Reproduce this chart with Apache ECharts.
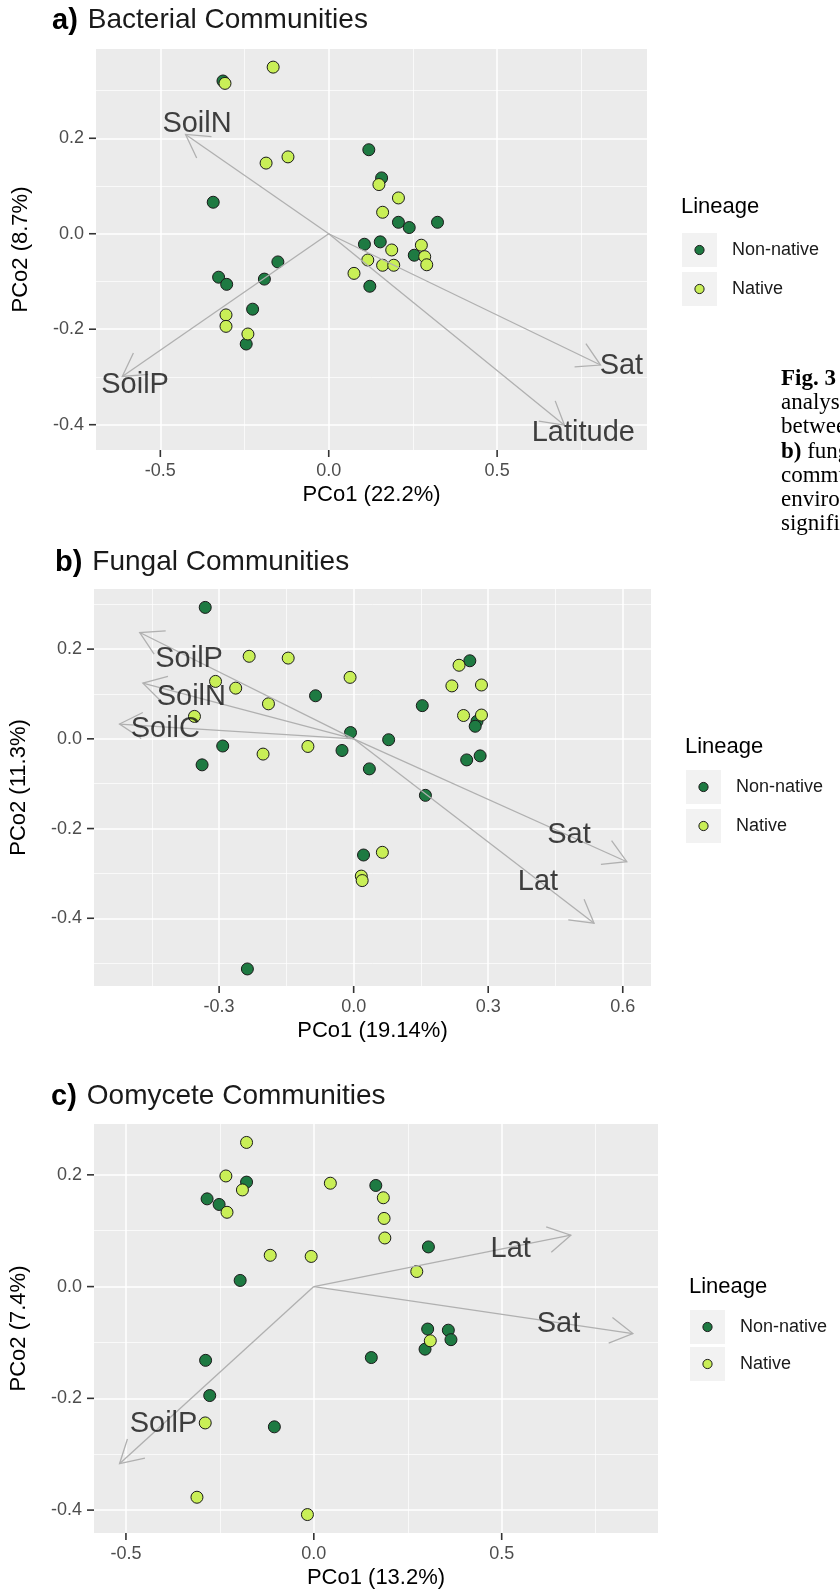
<!DOCTYPE html>
<html>
<head>
<meta charset="utf-8">
<script src="https://cdn.jsdelivr.net/npm/echarts@6/dist/echarts.min.js"></script>
<style>
  html, body { margin: 0; padding: 0; background: #ffffff; }
  #chart { width: 840px; height: 1594px; }
</style>
</head>
<body>
<div id="chart"></div>
<script>
// ---------- data ----------
const lineages = ['Non-native', 'Native'];

// a) Bacterial communities: PCo scores [PCo1, PCo2]
const bactNonNative = [
  [-0.314, 0.320], [-0.343, 0.066], [0.119, 0.176], [0.157, 0.117], [0.207, 0.024],
  [0.239, 0.013], [0.323, 0.024], [0.106, -0.022], [0.153, -0.017], [0.254, -0.045],
  [0.122, -0.110], [-0.151, -0.059], [-0.327, -0.091], [-0.303, -0.106], [-0.191, -0.095],
  [-0.226, -0.158], [-0.245, -0.231]
];
const bactNative = [
  [-0.308, 0.315], [-0.165, 0.349], [-0.186, 0.148], [-0.121, 0.161], [0.149, 0.103],
  [0.207, 0.075], [0.160, 0.045], [0.187, -0.034], [0.275, -0.024], [0.285, -0.048],
  [0.291, -0.065], [0.116, -0.055], [0.160, -0.066], [0.193, -0.066], [0.075, -0.083],
  [-0.305, -0.170], [-0.305, -0.194], [-0.240, -0.210]
];
// environmental vectors (arrow tips) and where their names sit
const bactVectors = [
  ['SoilN', -0.425, 0.208], ['SoilP', -0.613, -0.299], ['Sat', 0.807, -0.275], ['Latitude', 0.700, -0.401]
];
const bactVectorLabels = [
  ['SoilN', -0.391, 0.229], ['SoilP', -0.575, -0.317], ['Sat', 0.869, -0.278], ['Latitude', 0.756, -0.418]
];

// b) Fungal communities
const fungNonNative = [
  [-0.331, 0.293], [-0.085, 0.096], [-0.007, 0.014], [-0.292, -0.016], [-0.338, -0.058],
  [-0.026, -0.026], [0.078, -0.002], [0.035, -0.067], [0.153, 0.074], [0.160, -0.126],
  [0.259, 0.174], [0.275, 0.039], [0.271, 0.028], [0.252, -0.047], [0.282, -0.038],
  [0.022, -0.259], [-0.237, -0.513]
];
const fungNative = [
  [-0.233, 0.184], [-0.146, 0.180], [-0.308, 0.128], [-0.263, 0.113], [-0.190, 0.078],
  [-0.355, 0.050], [-0.008, 0.137], [-0.202, -0.034], [-0.102, -0.017], [0.235, 0.164],
  [0.219, 0.118], [0.285, 0.120], [0.245, 0.052], [0.285, 0.053], [0.064, -0.253],
  [0.017, -0.306], [0.019, -0.316]
];
const fungVectors = [
  ['SoilP', -0.477, 0.237], ['SoilN', -0.470, 0.124], ['SoilC', -0.522, 0.033],
  ['Sat', 0.609, -0.274], ['Lat', 0.536, -0.411]
];
const fungVectorLabels = [
  ['SoilP', -0.367, 0.178], ['SoilN', -0.362, 0.094], ['SoilC', -0.420, 0.022],
  ['Sat', 0.480, -0.214], ['Lat', 0.411, -0.320]
];

// c) Oomycete communities
const oomyNonNative = [
  [-0.179, 0.187], [-0.284, 0.157], [-0.252, 0.147], [0.165, 0.181], [-0.196, 0.011],
  [0.305, 0.071], [0.303, -0.076], [0.358, -0.078], [0.365, -0.095], [0.296, -0.112],
  [0.153, -0.127], [-0.288, -0.132], [-0.277, -0.195], [-0.105, -0.251]
];
const oomyNative = [
  [-0.179, 0.258], [-0.234, 0.198], [-0.190, 0.173], [-0.231, 0.133], [0.044, 0.185],
  [0.185, 0.159], [0.187, 0.122], [0.189, 0.087], [-0.116, 0.056], [-0.007, 0.054],
  [0.274, 0.027], [0.310, -0.097], [-0.289, -0.244], [-0.311, -0.377], [-0.017, -0.408]
];
const oomyVectors = [
  ['Lat', 0.684, 0.092], ['Sat', 0.849, -0.084], ['SoilP', -0.517, -0.317]
];
const oomyVectorLabels = [
  ['Lat', 0.524, 0.067], ['Sat', 0.651, -0.067], ['SoilP', -0.400, -0.246]
];

// axis breaks
const xTicksHalf = [-0.5, 0, 0.5];
const xMinorHalf = [-0.25, 0.25, 0.75];
const xTicksFung = [-0.3, 0, 0.3, 0.6];
const xMinorFung = [-0.45, -0.15, 0.15, 0.45];
const yTicks = [-0.4, -0.2, 0, 0.2];
const yMinorBact = [-0.3, -0.1, 0.1, 0.3];
const yMinorFung = [-0.5, -0.3, -0.1, 0.1, 0.3];
const yMinorOomy = [-0.3, -0.1, 0.1];

// caption text at the right margin
const captionLines = ['{b|Fig. 3}', 'analysis', 'between', '{b|b)} fungal', 'communities', 'environmental', 'significant'];

// ---------- styling / layout ----------
const SANS = 'Liberation Sans, Arial, Helvetica, sans-serif';
const SERIF = 'Liberation Serif, Times New Roman, serif';
const COL_NON = '#1e7a42';
const COL_NAT = '#c9ef57';
const TICK_LEN = 7;

const panels = [
  {
    tag: 'a)', title: 'Bacterial Communities', xName: 'PCo1 (22.2%)', yName: 'PCo2 (8.7%)',
    nonNative: bactNonNative, native: bactNative, vectors: bactVectors, vectorLabels: bactVectorLabels,
    xMajor: xTicksHalf, xMinor: xMinorHalf, yMajor: yTicks, yMinor: yMinorBact,
    xRange: [-0.691, 0.945], yRange: [-0.453, 0.387],
    box: { left: 96, top: 49, width: 551, height: 401 },
    titlePos: { left: 52, top: 6 },
    legend: { x: 681, titleY: 207, keyY: [250, 289] }
  },
  {
    tag: 'b)', title: 'Fungal Communities', xName: 'PCo1 (19.14%)', yName: 'PCo2 (11.3%)',
    nonNative: fungNonNative, native: fungNative, vectors: fungVectors, vectorLabels: fungVectorLabels,
    xMajor: xTicksFung, xMinor: xMinorFung, yMajor: yTicks, yMinor: yMinorFung,
    xRange: [-0.579, 0.663], yRange: [-0.551, 0.334],
    box: { left: 93, top: 589, width: 558, height: 397 },
    titlePos: { left: 55, top: 548 },
    legend: { x: 685, titleY: 747, keyY: [787, 826] }
  },
  {
    tag: 'c)', title: 'Oomycete Communities', xName: 'PCo1 (13.2%)', yName: 'PCo2 (7.4%)',
    nonNative: oomyNonNative, native: oomyNative, vectors: oomyVectors, vectorLabels: oomyVectorLabels,
    xMajor: xTicksHalf, xMinor: xMinorHalf, yMajor: yTicks, yMinor: yMinorOomy,
    xRange: [-0.585, 0.916], yRange: [-0.441, 0.291],
    box: { left: 91, top: 1124, width: 567, height: 409 },
    titlePos: { left: 51, top: 1082 },
    legend: { x: 689, titleY: 1287, keyY: [1327, 1364] }
  }
];

const fmt = v => v.toFixed(1);

function majorAxis(i, p, dim) {
  const isX = dim === 'x';
  const range = isX ? p.xRange : p.yRange;
  const ticks = isX ? p.xMajor : p.yMajor;
  return {
    gridIndex: i, type: 'value', min: range[0], max: range[1],
    position: isX ? 'bottom' : 'left',
    name: isX ? p.xName : p.yName,
    nameLocation: 'middle',
    nameGap: isX ? 34 : 64,
    nameRotate: isX ? 0 : 90,
    nameTextStyle: { fontSize: 22, color: '#000', fontFamily: SANS },
    axisLine: { show: false, onZero: false },
    axisTick: { show: false, customValues: ticks },
    axisLabel: { customValues: ticks, formatter: fmt, color: '#4D4D4D', fontSize: 18, fontFamily: SANS, margin: 12 },
    splitLine: { show: true, lineStyle: { color: '#ffffff', width: 1.5 } }
  };
}
function minorAxis(i, p, dim) {
  const isX = dim === 'x';
  const range = isX ? p.xRange : p.yRange;
  const ticks = isX ? p.xMinor : p.yMinor;
  return {
    gridIndex: i, type: 'value', min: range[0], max: range[1],
    position: isX ? 'bottom' : 'left',
    axisLine: { show: false, onZero: false },
    axisTick: { show: false, customValues: ticks },
    axisLabel: { show: false, customValues: ticks },
    splitLine: { show: true, lineStyle: { color: '#ffffff', width: 0.7 } }
  };
}

// open-headed arrow from the origin to a vector tip, in pixel space
function renderArrow(params, api) {
  const o = api.coord([0, 0]);
  const t = api.coord([api.value(0), api.value(1)]);
  const ang = Math.atan2(t[1] - o[1], t[0] - o[0]);
  const len = 26, spread = Math.PI / 6;
  const h1 = [t[0] - len * Math.cos(ang - spread), t[1] - len * Math.sin(ang - spread)];
  const h2 = [t[0] - len * Math.cos(ang + spread), t[1] - len * Math.sin(ang + spread)];
  const style = { stroke: '#b0b0b0', lineWidth: 1.3, fill: null };
  return {
    type: 'group',
    children: [
      { type: 'line', shape: { x1: o[0], y1: o[1], x2: t[0], y2: t[1] }, style: style },
      { type: 'polyline', shape: { points: [h1, t, h2] }, style: style }
    ]
  };
}

const grids = [], xAxes = [], yAxes = [], series = [], titles = [], graphics = [];

panels.forEach((p, i) => {
  grids.push({
    left: p.box.left, top: p.box.top, width: p.box.width, height: p.box.height,
    show: true, backgroundColor: '#EBEBEB', borderWidth: 0
  });
  xAxes.push(majorAxis(i, p, 'x'), minorAxis(i, p, 'x'));
  yAxes.push(majorAxis(i, p, 'y'), minorAxis(i, p, 'y'));
  const ax = 2 * i;

  series.push({
    type: 'scatter', name: lineages[0], xAxisIndex: ax, yAxisIndex: ax,
    data: p.nonNative, symbolSize: 12, z: 3,
    itemStyle: { color: COL_NON, borderColor: '#1a1a1a', borderWidth: 1, opacity: 1 }
  });
  series.push({
    type: 'scatter', name: lineages[1], xAxisIndex: ax, yAxisIndex: ax,
    data: p.native, symbolSize: 12, z: 4,
    itemStyle: { color: COL_NAT, borderColor: '#1a1a1a', borderWidth: 1, opacity: 1 }
  });
  series.push({
    type: 'custom', name: 'vectors', xAxisIndex: ax, yAxisIndex: ax, z: 5, silent: true,
    data: p.vectors.map(v => ({ name: v[0], value: [v[1], v[2]] })),
    encode: { x: 0, y: 1 },
    renderItem: renderArrow
  });
  series.push({
    type: 'scatter', name: 'vector labels', xAxisIndex: ax, yAxisIndex: ax, z: 6, silent: true,
    symbolSize: 0,
    data: p.vectorLabels.map(v => ({ name: v[0], value: [v[1], v[2]] })),
    label: {
      show: true, position: 'inside', formatter: '{b}',
      fontSize: 29, color: '#111', fontFamily: SANS
    }
  });

  titles.push({
    text: '{tag|' + p.tag + '}{name|' + p.title + '}',
    left: p.titlePos.left, top: p.titlePos.top, padding: 0,
    textStyle: {
      fontWeight: 'normal',
      rich: {
        tag: { fontSize: 29, fontWeight: 'bold', color: '#000', fontFamily: SANS, padding: [0, 10, 0, 0] },
        name: { fontSize: 28, fontWeight: 'normal', color: '#1a1a1a', fontFamily: SANS }
      }
    }
  });

  // legend: "Lineage" with grey key boxes
  const lg = p.legend;
  const children = [{
    type: 'text', x: 0, y: 0,
    style: { text: 'Lineage', fontSize: 22, fill: '#000', fontFamily: SANS, verticalAlign: 'middle', align: 'left' }
  }];
  lineages.forEach((name, k) => {
    const cy = lg.keyY[k] - lg.titleY;
    children.push({ type: 'rect', shape: { x: 1, y: cy - 17, width: 35, height: 34 }, style: { fill: '#F2F2F2' } });
    children.push({
      type: 'circle', shape: { cx: 18.5, cy: cy, r: 4.6 },
      style: { fill: k === 0 ? COL_NON : COL_NAT, stroke: '#1a1a1a', lineWidth: 1 }
    });
    children.push({
      type: 'text', x: 51, y: cy,
      style: { text: name, fontSize: 18, fill: '#1a1a1a', fontFamily: SANS, verticalAlign: 'middle', align: 'left' }
    });
  });
  graphics.push({ type: 'group', x: lg.x, y: lg.titleY, children: children });
});

// figure caption fragment at the right edge
graphics.push({
  type: 'group', x: 781, y: 379,
  children: captionLines.map((line, k) => ({
    type: 'text', x: 0, y: k * 24.2,
    style: {
      text: line, fontSize: 23, fill: '#000', fontFamily: SERIF, verticalAlign: 'middle', align: 'left',
      rich: { b: { fontSize: 23, fontWeight: 'bold', fill: '#000', fontFamily: SERIF } }
    }
  }))
});

const chart = echarts.init(document.getElementById('chart'), null, { renderer: 'canvas' });
chart.setOption({
  backgroundColor: '#ffffff',
  animation: false,
  textStyle: { fontFamily: SANS },
  title: titles,
  grid: grids,
  xAxis: xAxes,
  yAxis: yAxes,
  series: series,
  graphic: graphics
});

// outward tick marks at each break, placed through the axes' own value-to-pixel mapping;
// each panel's marks live in one group so they sit together above the grids
const tickGroups = panels.map((p, i) => {
  const finder = { gridIndex: i };
  const marks = [];
  p.xMajor.forEach(v => {
    const pt = chart.convertToPixel(finder, [v, p.yRange[0]]);
    if (pt && isFinite(pt[0]) && isFinite(pt[1])) {
      marks.push({
        type: 'line',
        shape: { x1: pt[0], y1: pt[1], x2: pt[0], y2: pt[1] + TICK_LEN },
        style: { stroke: '#333333', lineWidth: 1.6 }
      });
    }
  });
  p.yMajor.forEach(v => {
    const pt = chart.convertToPixel(finder, [p.xRange[0], v]);
    if (pt && isFinite(pt[0]) && isFinite(pt[1])) {
      marks.push({
        type: 'line',
        shape: { x1: pt[0] - TICK_LEN, y1: pt[1], x2: pt[0], y2: pt[1] },
        style: { stroke: '#333333', lineWidth: 1.6 }
      });
    }
  });
  return { type: 'group', x: 0, y: 0, silent: true, z: 100, children: marks };
});
chart.setOption({ graphic: graphics.concat(tickGroups) });
</script>
</body>
</html>
